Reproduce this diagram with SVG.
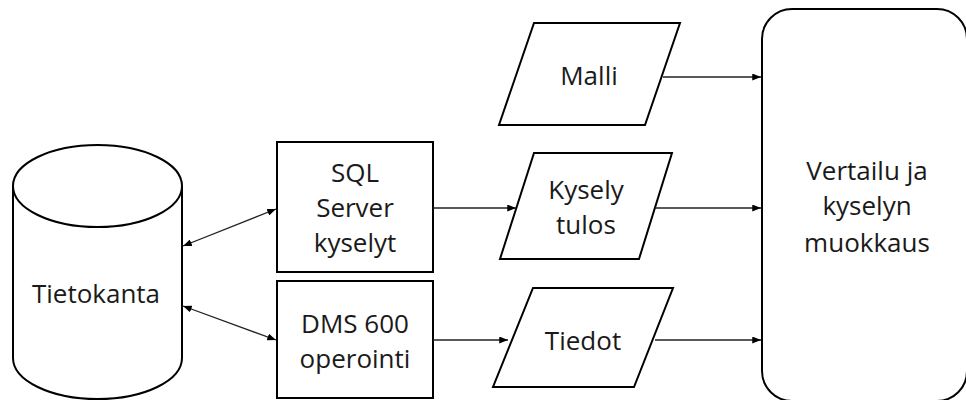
<svg xmlns="http://www.w3.org/2000/svg" width="966" height="400" viewBox="0 0 966 400">
<style>
.shape{fill:#fff;stroke:#000;stroke-width:2}
.lbl{font-family:"Open Sans","Noto Sans","Liberation Sans",sans-serif;font-size:26px;fill:#1a1a1a;text-anchor:middle}
.conn{stroke:#222;stroke-width:1.3;fill:none}
</style>
<defs>
<marker id="ah" viewBox="0 0 10 8" refX="10" refY="4" markerWidth="9" markerHeight="7" markerUnits="userSpaceOnUse" orient="auto-start-reverse">
<path d="M0,0 L10,4 L0,8 Z" fill="#000"/>
</marker>
</defs>
<rect width="966" height="400" fill="#fff"/>
<g id="tietokanta">
<path class="shape" d="M13,186 L13,358 A84.5,41 0 0 0 182,358 L182,186"/>
<ellipse class="shape" cx="97.5" cy="186" rx="84.5" ry="41"/>
<text class="lbl" x="96" y="303">Tietokanta</text>
</g>
<g id="sql">
<rect class="shape" x="277" y="142" width="156" height="130"/>
<text class="lbl" x="355" y="182">SQL</text>
<text class="lbl" x="355" y="217">Server</text>
<text class="lbl" x="355" y="252">kyselyt</text>
</g>
<g id="dms">
<rect class="shape" x="277" y="281" width="156" height="117"/>
<text class="lbl" x="355" y="333">DMS 600</text>
<text class="lbl" x="355" y="368">operointi</text>
</g>
<g id="malli">
<polygon class="shape" points="534,23 680,23 645,125 499,125"/>
<text class="lbl" x="589" y="85">Malli</text>
</g>
<g id="kysely">
<polygon class="shape" points="534,153 672,153 639,259 500,259"/>
<text class="lbl" x="586" y="199">Kysely</text>
<text class="lbl" x="586" y="234">tulos</text>
</g>
<g id="tiedot">
<polygon class="shape" points="533,288 673,288 634,387 493,387"/>
<text class="lbl" x="583" y="350">Tiedot</text>
</g>
<g id="vertailu">
<rect class="shape" x="762" y="9" width="205" height="392" rx="30" ry="30"/>
<text class="lbl" x="867" y="180">Vertailu ja</text>
<text class="lbl" x="867" y="215">kyselyn</text>
<text class="lbl" x="867" y="252">muokkaus</text>
</g>
<g id="connectors">
<line class="conn" x1="183" y1="246" x2="276" y2="209" marker-start="url(#ah)" marker-end="url(#ah)"/>
<line class="conn" x1="183" y1="306" x2="276" y2="340" marker-start="url(#ah)" marker-end="url(#ah)"/>
<line class="conn" x1="433" y1="208" x2="516" y2="208" marker-end="url(#ah)"/>
<line class="conn" x1="433" y1="340" x2="508" y2="340" marker-end="url(#ah)"/>
<line class="conn" x1="663" y1="77" x2="761" y2="77" marker-end="url(#ah)"/>
<line class="conn" x1="655" y1="208" x2="761" y2="208" marker-end="url(#ah)"/>
<line class="conn" x1="655" y1="340" x2="761" y2="340" marker-end="url(#ah)"/>
</g>
</svg>
